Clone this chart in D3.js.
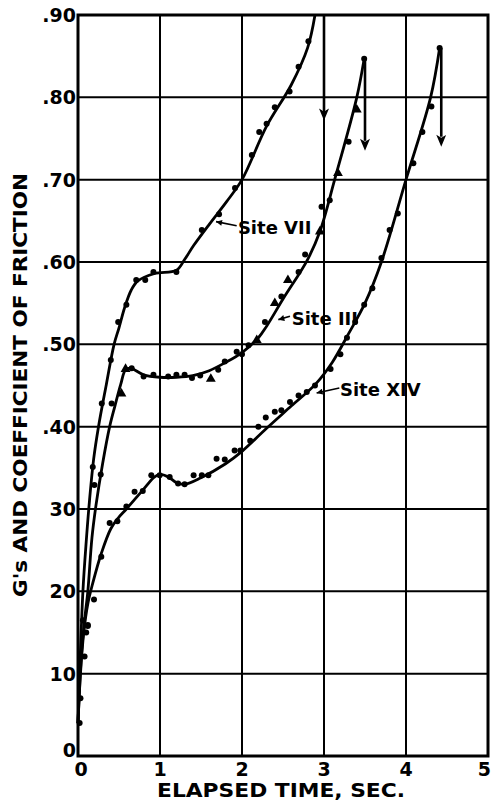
<!DOCTYPE html>
<html lang="en">
<head>
<meta charset="UTF-8"/>
<title>Elapsed time chart</title>
<script src="https://d3js.org/d3.v7.min.js" charset="utf-8"></script>
<style type="text/css">
    body { margin: 0; background: #fff; }
    text {
        font-family: "DejaVu Sans", sans-serif;
        font-weight: bold;
        fill: #000;
    }
    .grid line { stroke: #000; stroke-width: 2px; }
    .frame { fill: none; stroke: #000; stroke-width: 3px; }
    path.curve { fill: none; stroke: #000; stroke-width: 2.8px; }
    .leader { stroke: #000; stroke-width: 1.6px; fill: none; }
</style>
</head>
<body>
<script type="text/javascript">
    // tick values and labels
    var xTicks = [0, 1, 2, 3, 4, 5];
    var xTickLabels = ["0", "1", "2", "3", "4", "5"];
    var yTicks = [0, 0.1, 0.2, 0.3, 0.4, 0.5, 0.6, 0.7, 0.8, 0.9];
    var yTickLabels = ["0", "10", "20", "30", ".40", ".50", ".60", ".70", ".80", ".90"];

    // faired curves (time, value)
    var curveVII = [[0.0, 0.04], [0.02, 0.10], [0.06, 0.20], [0.10, 0.26], [0.14, 0.31], [0.19, 0.36],
        [0.25, 0.40], [0.345, 0.451], [0.44, 0.50], [0.5, 0.52], [0.57, 0.545], [0.65, 0.566],
        [0.73, 0.577], [0.935, 0.586], [1.2, 0.59], [1.3, 0.603], [1.41, 0.62], [1.61, 0.647],
        [1.81, 0.673], [2.0, 0.70], [2.3, 0.765], [2.6, 0.815], [2.8, 0.86], [2.89, 0.90]];
    var curveIII = [[0.0, 0.04], [0.04, 0.12], [0.08, 0.165], [0.12, 0.20], [0.17, 0.265], [0.22, 0.305],
        [0.3, 0.355], [0.386, 0.40], [0.45, 0.425], [0.52, 0.451], [0.58, 0.469], [0.64, 0.471],
        [0.8, 0.463], [1.0, 0.46], [1.2, 0.46], [1.4, 0.462], [1.6, 0.468], [1.8, 0.478], [2.0, 0.49],
        [2.2, 0.508], [2.3, 0.522], [2.5, 0.555], [2.8, 0.603], [2.95, 0.637], [3.13, 0.70],
        [3.4, 0.80], [3.49, 0.847]];
    var curveXIV = [[0.0, 0.04], [0.03, 0.10], [0.07, 0.15], [0.12, 0.185], [0.18, 0.21], [0.284, 0.246],
        [0.4, 0.276], [0.49, 0.289], [0.59, 0.30], [0.79, 0.323], [0.935, 0.339], [1.0, 0.342],
        [1.1, 0.339], [1.2, 0.332], [1.3, 0.33], [1.5, 0.338], [1.8, 0.355], [2.0, 0.37], [2.3, 0.398],
        [2.6, 0.425], [2.9, 0.452], [3.1, 0.478], [3.3, 0.513], [3.5, 0.55], [3.7, 0.60], [4.0, 0.70],
        [4.3, 0.80], [4.41, 0.86]];

    // measured points
    var dotsVII = [[0.02, 0.04], [0.03, 0.07], [0.1, 0.15], [0.18, 0.351], [0.29, 0.428], [0.40, 0.481],
        [0.49, 0.527], [0.59, 0.548], [0.71, 0.578], [0.82, 0.578], [0.92, 0.588], [1.2, 0.588],
        [1.51, 0.639], [1.72, 0.658], [1.915, 0.69], [2.12, 0.73], [2.21, 0.758], [2.3, 0.768],
        [2.4, 0.788], [2.58, 0.807], [2.69, 0.837], [2.81, 0.868]];
    var dotsIII = [[0.06, 0.165], [0.12, 0.159], [0.2, 0.329], [0.277, 0.342], [0.41, 0.428], [0.655, 0.471],
        [0.8, 0.461], [0.92, 0.463], [1.1, 0.461], [1.2, 0.463], [1.3, 0.463], [1.39, 0.459],
        [1.49, 0.462], [1.71, 0.469], [1.79, 0.479], [1.935, 0.491], [2.0, 0.488], [2.08, 0.499],
        [2.28, 0.527], [2.48, 0.558], [2.69, 0.588], [2.77, 0.609], [2.97, 0.667], [3.07, 0.675],
        [3.3, 0.746], [3.49, 0.847]];
    var trianglesIII = [[0.53, 0.44], [0.58, 0.47], [1.62, 0.458], [2.18, 0.505], [2.4, 0.55], [2.56, 0.578],
        [2.95, 0.637], [3.17, 0.708], [3.4, 0.785]];
    var dotsXIV = [[0.08, 0.121], [0.12, 0.158], [0.195, 0.19], [0.284, 0.242], [0.386, 0.283], [0.48, 0.285],
        [0.59, 0.303], [0.69, 0.321], [0.79, 0.322], [0.894, 0.341], [0.996, 0.341], [1.118, 0.339],
        [1.22, 0.331], [1.3, 0.330], [1.41, 0.341], [1.51, 0.341], [1.59, 0.341], [1.69, 0.361],
        [1.79, 0.36], [1.91, 0.371], [1.98, 0.371], [2.1, 0.383], [2.2, 0.40], [2.29, 0.411],
        [2.4, 0.418], [2.48, 0.42], [2.585, 0.43], [2.69, 0.438], [2.79, 0.442], [2.89, 0.45],
        [3.08, 0.47], [3.2, 0.488], [3.28, 0.508], [3.38, 0.527], [3.49, 0.548], [3.59, 0.568],
        [3.7, 0.605], [3.8, 0.639], [3.9, 0.659], [4.09, 0.72], [4.2, 0.758], [4.31, 0.789], [4.41, 0.86]];

    // drop arrows at the end of each run: time, from, to
    var dropArrows = [[3.0, 0.90, 0.772], [3.5, 0.847, 0.735], [4.43, 0.86, 0.74]];

    // curve labels: text, text anchor (time, value), leader start, leader end
    var siteNames = ["Site VII", "Site III", "Site XIV"];
    var siteTextAt = [[1.95, 0.634], [2.606, 0.523], [3.195, 0.437]];
    var siteLeaders = [[[1.935, 0.644], [1.683, 0.649]], [[2.585, 0.534], [2.443, 0.53]], [[3.187, 0.447], [2.91, 0.441]]];

    var width = 492, height = 801;
    var x = d3.scaleLinear().domain([0, 5]).range([78, 488]);
    var y = d3.scaleLinear().domain([0, 0.9]).range([756, 15]);

    var svg = d3.select("body").append("svg")
        .attr("width", width)
        .attr("height", height);

    // arrowheads point along +x, orient auto turns them with the line
    var defs = svg.append("defs");
    defs.append("marker")
        .attr("id", "drop")
        .attr("viewBox", "0 0 12 10")
        .attr("refX", 2).attr("refY", 5)
        .attr("markerWidth", 13).attr("markerHeight", 10)
        .attr("markerUnits", "userSpaceOnUse")
        .attr("orient", "auto")
        .append("path").attr("d", "M0,0 L12,5 L0,10 L3,5 Z").attr("fill", "#000");
    defs.append("marker")
        .attr("id", "lead")
        .attr("viewBox", "0 0 10 10")
        .attr("refX", 10).attr("refY", 5)
        .attr("markerWidth", 7).attr("markerHeight", 6)
        .attr("markerUnits", "userSpaceOnUse")
        .attr("orient", "auto")
        .append("path").attr("d", "M0,0 L10,5 L0,10 Z").attr("fill", "#000");

    // grid
    var grid = svg.append("g").attr("class", "grid");
    grid.selectAll("line.v").data(xTicks).enter().append("line")
        .attr("x1", function (d) { return x(d); }).attr("x2", function (d) { return x(d); })
        .attr("y1", y(0)).attr("y2", y(0.9));
    grid.selectAll("line.h").data(yTicks).enter().append("line")
        .attr("x1", x(0)).attr("x2", x(5))
        .attr("y1", function (d) { return y(d); }).attr("y2", function (d) { return y(d); });
    svg.append("rect").attr("class", "frame")
        .attr("x", x(0)).attr("y", y(0.9))
        .attr("width", x(5) - x(0)).attr("height", y(0) - y(0.9));

    // tick labels
    svg.append("g").selectAll("text").data(yTicks).enter().append("text")
        .attr("x", x(0) - 2)
        .attr("y", function (d, i) { return i === 0 ? y(d) + 1 : y(d) + 7; })
        .attr("text-anchor", "end")
        .style("font-size", "19px")
        .text(function (d, i) { return yTickLabels[i]; });
    svg.append("g").selectAll("text").data(xTicks).enter().append("text")
        .attr("x", function (d) { return d === 5 ? width - 1 : x(d) + (d === 0 ? 3 : 0); })
        .attr("y", 776)
        .attr("text-anchor", function (d) { return d === 5 ? "end" : "middle"; })
        .style("font-size", "19px")
        .text(function (d, i) { return xTickLabels[i]; });

    // axis titles
    svg.append("text")
        .attr("x", 281).attr("y", 797)
        .attr("text-anchor", "middle")
        .attr("textLength", 248).attr("lengthAdjust", "spacingAndGlyphs")
        .style("font-size", "19px")
        .text("ELAPSED TIME, SEC.");
    svg.append("text")
        .attr("transform", "translate(27,385) rotate(-90)")
        .attr("text-anchor", "middle")
        .attr("textLength", 424).attr("lengthAdjust", "spacingAndGlyphs")
        .style("font-size", "19px")
        .text("G's AND COEFFICIENT OF FRICTION");

    // curves
    var line = d3.line()
        .x(function (d) { return x(d[0]); })
        .y(function (d) { return y(d[1]); })
        .curve(d3.curveCatmullRom.alpha(0.5));
    [curveVII, curveIII, curveXIV].forEach(function (c) {
        svg.append("path").attr("class", "curve").attr("d", line(c));
    });

    // points
    var allDots = dotsVII.concat(dotsIII, dotsXIV);
    svg.append("g").selectAll("circle").data(allDots).enter().append("circle")
        .attr("cx", function (d) { return x(d[0]); })
        .attr("cy", function (d) { return y(d[1]); })
        .attr("r", 3)
        .style("fill", "#000");
    svg.append("g").selectAll("path").data(trianglesIII).enter().append("path")
        .attr("d", d3.symbol().type(d3.symbolTriangle).size(42))
        .attr("transform", function (d) { return "translate(" + x(d[0]) + "," + y(d[1]) + ")"; })
        .style("fill", "#000");

    // drop arrows
    svg.append("g").selectAll("line").data(dropArrows).enter().append("line")
        .attr("x1", function (d) { return x(d[0]); }).attr("x2", function (d) { return x(d[0]); })
        .attr("y1", function (d) { return y(d[1]); }).attr("y2", function (d) { return y(d[2]) - 10; })
        .attr("stroke", "#000").attr("stroke-width", 2.6)
        .attr("marker-end", "url(#drop)");

    // labels with leaders
    siteNames.forEach(function (name, i) {
        svg.append("text")
            .attr("x", x(siteTextAt[i][0])).attr("y", y(siteTextAt[i][1]))
            .style("font-size", "18px")
            .text(name);
        var l = siteLeaders[i];
        svg.append("line").attr("class", "leader")
            .attr("x1", x(l[0][0])).attr("y1", y(l[0][1]))
            .attr("x2", x(l[1][0])).attr("y2", y(l[1][1]))
            .attr("marker-end", "url(#lead)");
    });
</script>
</body>
</html>
